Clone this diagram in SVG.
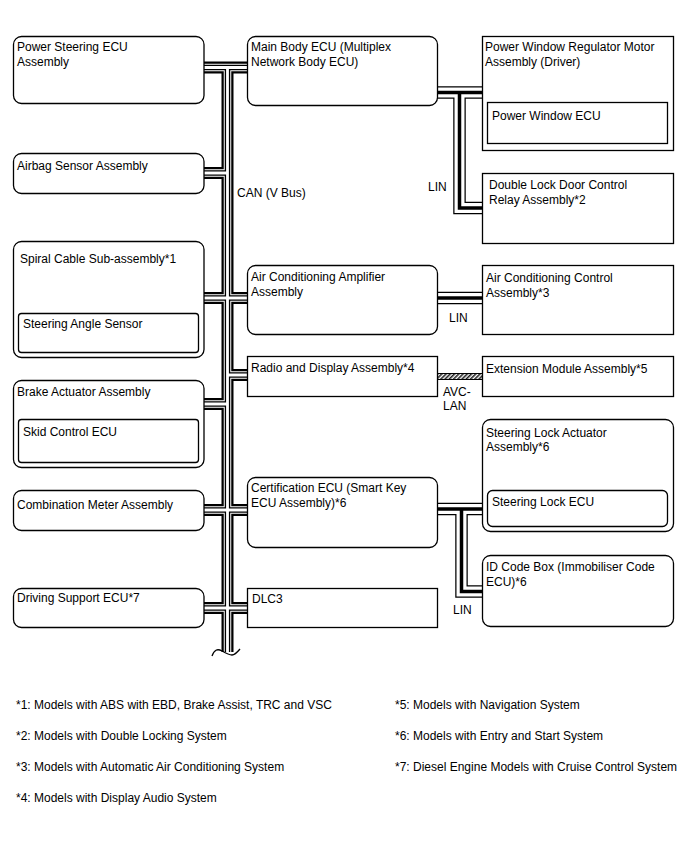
<svg xmlns="http://www.w3.org/2000/svg" width="688" height="852" viewBox="0 0 688 852">
<style>
.box{fill:#fff;stroke:#000;stroke-width:1.3}
.t{font-family:"Liberation Sans",Arial,sans-serif;font-size:12px;fill:#000}
.w{fill:none;stroke-linecap:butt;stroke-linejoin:miter}
.c1{stroke:#000;stroke-width:12}
.c2{stroke:#fff;stroke-width:7.5}
.c3{stroke:#000;stroke-width:5.5}
.c4{stroke:#fff;stroke-width:2.8}
.l1{stroke:#000;stroke-width:12.5}
.l2{stroke:#fff;stroke-width:10}
.l3{stroke:#000;stroke-width:3.5}
</style>
<defs>
<path id="can" d="M204,67.5 H247.5 M227.5,67.5 V652 M204,173 H227.5 M204,298 H247.5 M227.5,375 H247.5 M204,404 H227.5 M204,510 H247.5 M204,608 H247.5"/>
<path id="lin1" d="M437.5,92.5 H482.5 M459.5,92.5 V208 H482.5"/>
<path id="lin2" d="M437.5,298 H482.5"/>
<path id="lin3" d="M437.5,509 H483 M461.5,509 V591.5 H483"/>
<pattern id="hatch" width="3" height="3" patternUnits="userSpaceOnUse" patternTransform="rotate(45)">
<rect width="3" height="3" fill="#fff"/>
<rect width="1.6" height="3" fill="#222"/>
</pattern>
</defs>
<rect width="688" height="852" fill="#fff"/>
<g id="connectors">
<g class="w">
<use href="#can" class="c1"/><use href="#can" class="c2"/><use href="#can" class="c3"/><use href="#can" class="c4"/>
</g>
<g class="w">
<use href="#lin1" class="l1"/><use href="#lin1" class="l2"/><use href="#lin1" class="l3"/>
<use href="#lin2" class="l1"/><use href="#lin2" class="l2"/><use href="#lin2" class="l3"/>
<use href="#lin3" class="l1"/><use href="#lin3" class="l2"/><use href="#lin3" class="l3"/>
</g>
<rect x="437.5" y="373.5" width="45" height="6" fill="url(#hatch)" stroke="#000" stroke-width="1"/>
<path d="M212,656 Q215,647 222,651 T232,655 T240,649" fill="none" stroke="#000" stroke-width="1.3"/>
<text class="t" x="237" y="197">CAN (V Bus)</text>
<text class="t" x="428" y="191">LIN</text>
<text class="t" x="449" y="322">LIN</text>
<text class="t" x="443" y="396">AVC-</text>
<text class="t" x="443" y="410">LAN</text>
<text class="t" x="453" y="614">LIN</text>
</g>
<g id="power-steering"><rect class="box" x="13.5" y="36.5" width="190.5" height="67" rx="8"/><text class="t" x="17" y="51">Power Steering ECU</text><text class="t" x="17" y="66">Assembly</text></g>
<g id="airbag"><rect class="box" x="13.5" y="153.5" width="190.5" height="40" rx="8"/><text class="t" x="17" y="170">Airbag Sensor Assembly</text></g>
<g id="spiral"><rect class="box" x="13.5" y="241.5" width="190.5" height="116" rx="8"/><text class="t" x="20" y="263">Spiral Cable Sub-assembly*1</text>
<rect class="box" x="18.5" y="313.5" width="180" height="39" rx="3"/><text class="t" x="23" y="328">Steering Angle Sensor</text></g>
<g id="brake"><rect class="box" x="13.5" y="380.5" width="190.5" height="87" rx="8"/><text class="t" x="17" y="396">Brake Actuator Assembly</text>
<rect class="box" x="18.5" y="419.5" width="180" height="43" rx="3"/><text class="t" x="23" y="436">Skid Control ECU</text></g>
<g id="combination"><rect class="box" x="13.5" y="490.5" width="190.5" height="40" rx="8"/><text class="t" x="17" y="509">Combination Meter Assembly</text></g>
<g id="driving"><rect class="box" x="13.5" y="588.5" width="190.5" height="39" rx="8"/><text class="t" x="17" y="602">Driving Support ECU*7</text></g>
<g id="main-body"><rect class="box" x="247.5" y="36.5" width="190" height="69" rx="8"/><text class="t" x="251" y="51">Main Body ECU (Multiplex</text><text class="t" x="251" y="66">Network Body ECU)</text></g>
<g id="ac-amp"><rect class="box" x="247.5" y="265.5" width="190" height="69" rx="8"/><text class="t" x="251" y="281">Air Conditioning Amplifier</text><text class="t" x="251" y="296">Assembly</text></g>
<g id="radio"><rect class="box" x="247.5" y="356.5" width="190" height="40"/><text class="t" x="251" y="372">Radio and Display Assembly*4</text></g>
<g id="certification"><rect class="box" x="247.5" y="477.5" width="190" height="70" rx="8"/><text class="t" x="251" y="492">Certification ECU (Smart Key</text><text class="t" x="251" y="507">ECU Assembly)*6</text></g>
<g id="dlc3"><rect class="box" x="247.5" y="588.5" width="190" height="39"/><text class="t" x="252" y="603">DLC3</text></g>
<g id="power-window"><rect class="box" x="482.5" y="36.5" width="191" height="114"/><text class="t" x="485" y="51">Power Window Regulator Motor</text><text class="t" x="485" y="66">Assembly (Driver)</text>
<rect class="box" x="487.5" y="102.5" width="180" height="41"/><text class="t" x="492" y="120">Power Window ECU</text></g>
<g id="double-lock"><rect class="box" x="482.5" y="173.5" width="191" height="70"/><text class="t" x="489" y="189">Double Lock Door Control</text><text class="t" x="489" y="204">Relay Assembly*2</text></g>
<g id="ac-control"><rect class="box" x="482.5" y="265.5" width="191" height="69"/><text class="t" x="486" y="282">Air Conditioning Control</text><text class="t" x="486" y="297">Assembly*3</text></g>
<g id="extension"><rect class="box" x="482.5" y="356.5" width="191" height="40"/><text class="t" x="486" y="373">Extension Module Assembly*5</text></g>
<g id="steering-lock"><rect class="box" x="482.5" y="419.5" width="191" height="112" rx="8"/><text class="t" x="486" y="437">Steering Lock Actuator</text><text class="t" x="486" y="451">Assembly*6</text>
<rect class="box" x="487.5" y="490.5" width="180" height="36" rx="5"/><text class="t" x="492" y="506">Steering Lock ECU</text></g>
<g id="id-code"><rect class="box" x="482.5" y="555.5" width="191" height="71" rx="8"/><text class="t" x="486" y="571">ID Code Box (Immobiliser Code</text><text class="t" x="486" y="586">ECU)*6</text></g>
<g id="notes">
<text class="t" x="16" y="709">*1: Models with ABS with EBD, Brake Assist, TRC and VSC</text>
<text class="t" x="16" y="740">*2: Models with Double Locking System</text>
<text class="t" x="16" y="771">*3: Models with Automatic Air Conditioning System</text>
<text class="t" x="16" y="802">*4: Models with Display Audio System</text>
<text class="t" x="395" y="709">*5: Models with Navigation System</text>
<text class="t" x="395" y="740">*6: Models with Entry and Start System</text>
<text class="t" x="395" y="771">*7: Diesel Engine Models with Cruise Control System</text>
</g>
</svg>
